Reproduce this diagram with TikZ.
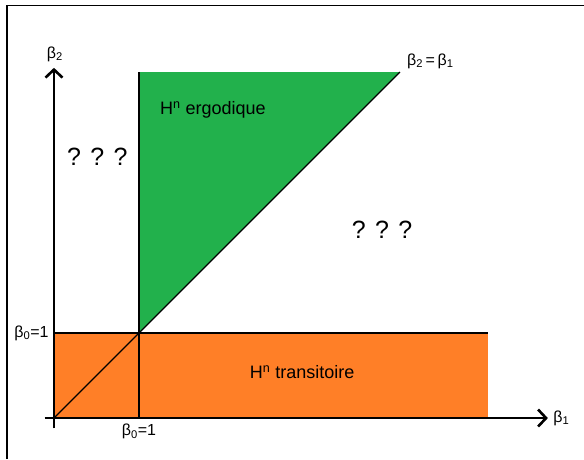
\documentclass[tikz,border=0pt]{standalone}
\usepackage{fontspec}
\setmainfont{Liberation Sans}
\usetikzlibrary{arrows.meta}

\begin{document}
\begin{tikzpicture}[x=85pt,y=85pt,
    axis/.style={line width=2.6pt,-{Straight Barb[length=8pt,width=17pt]}},
    edge/.style={line width=1.3pt},
    lbl/.style={font=\fontsize{16}{16}\selectfont,inner sep=1pt},
    region/.style={font=\fontsize{18}{18}\selectfont},
    query/.style={font=\fontsize{25}{25}\selectfont}]
    % Define colors
        \definecolor{transOrange}{RGB}{255, 127, 39} % Orange
        \definecolor{ergoGreen}{RGB}{34, 177, 76} % Green

        % Fix the page size
        \useasboundingbox (-0.635,-0.482) rectangle (6.235,4.918);

        % Frame (left and top only)
        \draw[line width=1.3pt] (-0.553,-0.482) -- (-0.553,4.852) -- (6.235,4.852);

        % Named points
        \coordinate (O) at (0,0);
        \coordinate (B0x) at (1,0);
        \coordinate (B0y) at (0,1);
        \coordinate (C) at (1,1);
        \coordinate (Top) at (4.07,4.07);
        \coordinate (TopL) at (1,4.07);
        \coordinate (OrR) at (5.11,1);

        % Fill the two regions
        \fill[transOrange] (O) rectangle (OrR);
        \fill[ergoGreen] (C) -- (Top) -- (TopL) -- cycle;

        % Draw the lines
        \draw[edge] (B0y) -- (OrR);
        \draw[edge] (B0x) -- (TopL);
        \draw[edge] (O) -- (Top);

        % Axes
        \draw[axis] (-0.11,0) -- (5.81,0);
        \draw[axis] (0,-0.12) -- (0,4.12);

        % Add text labels
        \node[lbl,anchor=west] (b1) at (5.86,0) {β\textsubscript{1}};
        \node[lbl] (b2) at (0.01,4.28) {β\textsubscript{2}};
        \node[lbl,anchor=west] (diag) at (4.14,4.20) {β\textsubscript{2}\,=\,β\textsubscript{1}};
        \node[lbl,anchor=east] (b0y) at (-0.05,1) {β\textsubscript{0}=1};
        \node[lbl,anchor=north] (b0x) at (1,-0.06) {β\textsubscript{0}=1};

        \node[region] (ergo) at (1.87,3.62) {H\textsuperscript{n} ergodique};
        \node[region] (trans) at (2.92,0.54) {H\textsuperscript{n} transitoire};

        \node[query] (qleft) at (0.51,3.07) {? ? ?};
        \node[query] (qright) at (3.86,2.22) {? ? ?};
    \end{tikzpicture}
\end{document}
